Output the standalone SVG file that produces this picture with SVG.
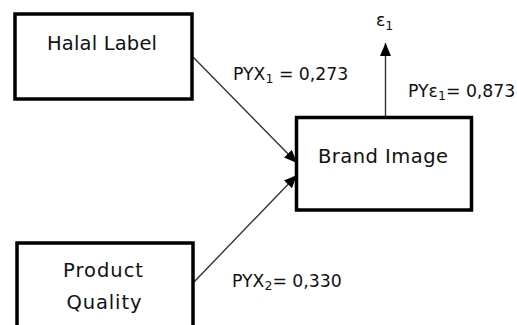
<svg xmlns="http://www.w3.org/2000/svg" width="517" height="325" viewBox="0 0 517 325">
<style>
.box{fill:#fff;stroke:#000;stroke-width:3.5}
.nt{font-family:"DejaVu Sans","Liberation Sans",sans-serif;font-size:19.5px;fill:#111;text-anchor:middle}
.lb{font-family:"DejaVu Sans","Liberation Sans",sans-serif;font-size:17.3px;fill:#111}
.sub{font-size:12.5px}
.con{stroke:#333;stroke-width:1.4;fill:none}
</style>
<defs>
<marker id="ah" markerUnits="userSpaceOnUse" markerWidth="14" markerHeight="12" refX="13" refY="6" orient="auto">
<path d="M0,0.5 L13,6 L0,11.5 Z" fill="#000"/>
</marker>
</defs>
<rect width="517" height="325" fill="#fff"/>
<g id="connectors">
<line class="con" x1="193" y1="57" x2="297" y2="163" marker-end="url(#ah)"/>
<line class="con" x1="194" y1="282" x2="297" y2="175" marker-end="url(#ah)"/>
<line class="con" x1="385.5" y1="116" x2="385.5" y2="43" marker-end="url(#ah)"/>
</g>
<g id="halal-label">
<rect class="box" x="15" y="14" width="177" height="85"/>
<text class="nt" x="102" y="50" textLength="110" lengthAdjust="spacing">Halal Label</text>
</g>
<g id="product-quality">
<rect class="box" x="17" y="243" width="176" height="90"/>
<text class="nt" x="103" y="277" textLength="80" lengthAdjust="spacing">Product</text>
<text class="nt" x="104" y="309" textLength="75" lengthAdjust="spacing">Quality</text>
</g>
<g id="brand-image">
<rect class="box" x="296.5" y="117.5" width="175" height="92.5"/>
<text class="nt" x="383" y="163" textLength="130" lengthAdjust="spacing">Brand Image</text>
</g>
<g id="error">
<text class="lb" x="376" y="26" font-size="19">ε<tspan class="sub" dy="4">1</tspan></text>
</g>
<g id="labels">
<text class="lb" x="233" y="80">PYX<tspan class="sub" dy="3">1</tspan><tspan dy="-3"> = 0,273</tspan></text>
<text class="lb" x="408" y="97">PYε<tspan class="sub" dy="3">1</tspan><tspan dy="-3">= 0,873</tspan></text>
<text class="lb" x="232" y="287">PYX<tspan class="sub" dy="3">2</tspan><tspan dy="-3">= 0,330</tspan></text>
</g>
</svg>
